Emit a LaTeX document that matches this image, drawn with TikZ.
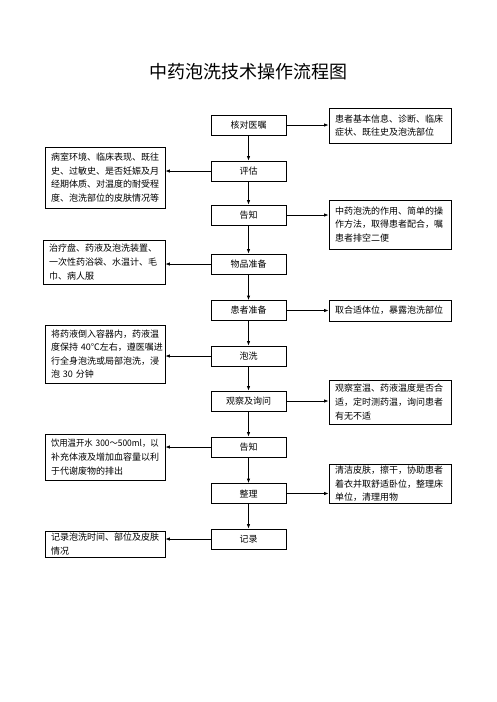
\documentclass[tikz,border=0pt]{standalone}
\usepackage{fontspec}
\usepackage{graphicx}
\setmainfont{Noto Sans CJK SC}
\usetikzlibrary{arrows.meta}
\begin{document}
\begin{tikzpicture}[x=1pt,y=-1pt,
  box/.style={draw, line width=0.8pt, inner sep=0pt, font=\fontsize{9pt}{13.6pt}\selectfont},
  cbox/.style={box, minimum width=75pt, minimum height=20pt},
  sbox/.style={box, align=left, inner xsep=6pt, inner ysep=2pt},
  arr/.style={-{Latex[length=4.5pt,width=3.5pt]}, line width=0.8pt}]
\useasboundingbox (0,0) rectangle (496,702);

\node[font=\fontsize{18pt}{20pt}\selectfont] (title) at (248,72) {中药泡洗技术操作流程图};

% centre column
\node[cbox] (c1) at (248.5,125) {核对医嘱};
\node[cbox] (c2) at (248.5,171) {评估};
\node[cbox] (c3) at (248.5,215) {告知};
\node[cbox] (c4) at (248.5,264) {物品准备};
\node[cbox] (c5) at (248.5,310.5) {患者准备};
\node[cbox] (c6) at (248.5,356) {泡洗};
\node[cbox] (c7) at (248.5,401) {观察及询问};
\node[cbox] (c8) at (248.5,447) {告知};
\node[cbox] (c9) at (248.5,493.5) {整理};
\node[cbox] (c10) at (248.5,539) {记录};

% right boxes
\node[sbox, text width=110pt, minimum height=35pt] (r1) at (390,125.5) {患者基本信息、诊断、临床\\症状、既往史及泡洗部位};
\node[sbox, text width=110pt, minimum height=49pt] (r2) at (390,224.5) {中药泡洗的作用、简单的操\\作方法，取得患者配合，嘱\\患者排空二便};
\node[sbox, text width=110pt, minimum height=21pt] (r3) at (390,310.5) {取合适体位，暴露泡洗部位};
\node[sbox, text width=110pt, minimum height=44pt] (r4) at (390,402) {观察室温、药液温度是否合\\适，定时测药温，询问患者\\有无不适};
\node[sbox, text width=110pt, minimum height=36pt] (r5) at (390,484) {清洁皮肤，擦干，协助患者\\着衣并取舒适卧位，整理床\\单位，清理用物};

% left boxes
\node[sbox, text width=108pt, minimum height=61pt] (l1) at (105,177.5) {病室环境、临床表现、既往\\史、过敏史、是否妊娠及月\\经期体质、对温度的耐受程\\度、泡洗部位的皮肤情况等};
\node[sbox, text width=110pt, minimum height=44pt] (l2) at (104,262) {治疗盘、药液及泡洗装置、\\一次性药浴袋、水温计、毛\\巾、病人服};
\node[sbox, text width=108pt, minimum height=58pt] (l3) at (105,354) {将药液倒入容器内，药液温\\度保持~40℃左右，遵医嘱进\\行全身泡洗或局部泡洗，浸\\泡~30~分钟};
\node[sbox, text width=108pt, minimum height=46pt] (l4) at (105,457) {\scalebox{0.93}[1]{饮用温开水~300～500ml，以}\\补充体液及增加血容量以利\\于代谢废物的排出};
\node[sbox, text width=108pt, minimum height=26pt] (l5) at (105,544) {记录泡洗时间、部位及皮肤\\情况};

% vertical flow
\foreach \a/\b in {c1/c2,c2/c3,c3/c4,c4/c5,c5/c6,c6/c7,c7/c8,c8/c9,c9/c10}
  \draw[arr] (\a) -- (\b);

% side arrows
\draw[arr] (c1.east) -- (c1.east -| r1.west);
\draw[arr] (c3.east) -- (c3.east -| r2.west);
\draw[arr] (c5.east) -- (c5.east -| r3.west);
\draw[arr] (c7.east) -- (c7.east -| r4.west);
\draw[arr] (c9.east) -- (c9.east -| r5.west);
\draw[arr] (c2.west) -- (c2.west -| l1.east);
\draw[arr] (c4.west) -- (c4.west -| l2.east);
\draw[arr] (c6.west) -- (c6.west -| l3.east);
\draw[arr] (c8.west) -- (c8.west -| l4.east);
\draw[arr] (c10.west) -- (c10.west -| l5.east);
\end{tikzpicture}
\end{document}
